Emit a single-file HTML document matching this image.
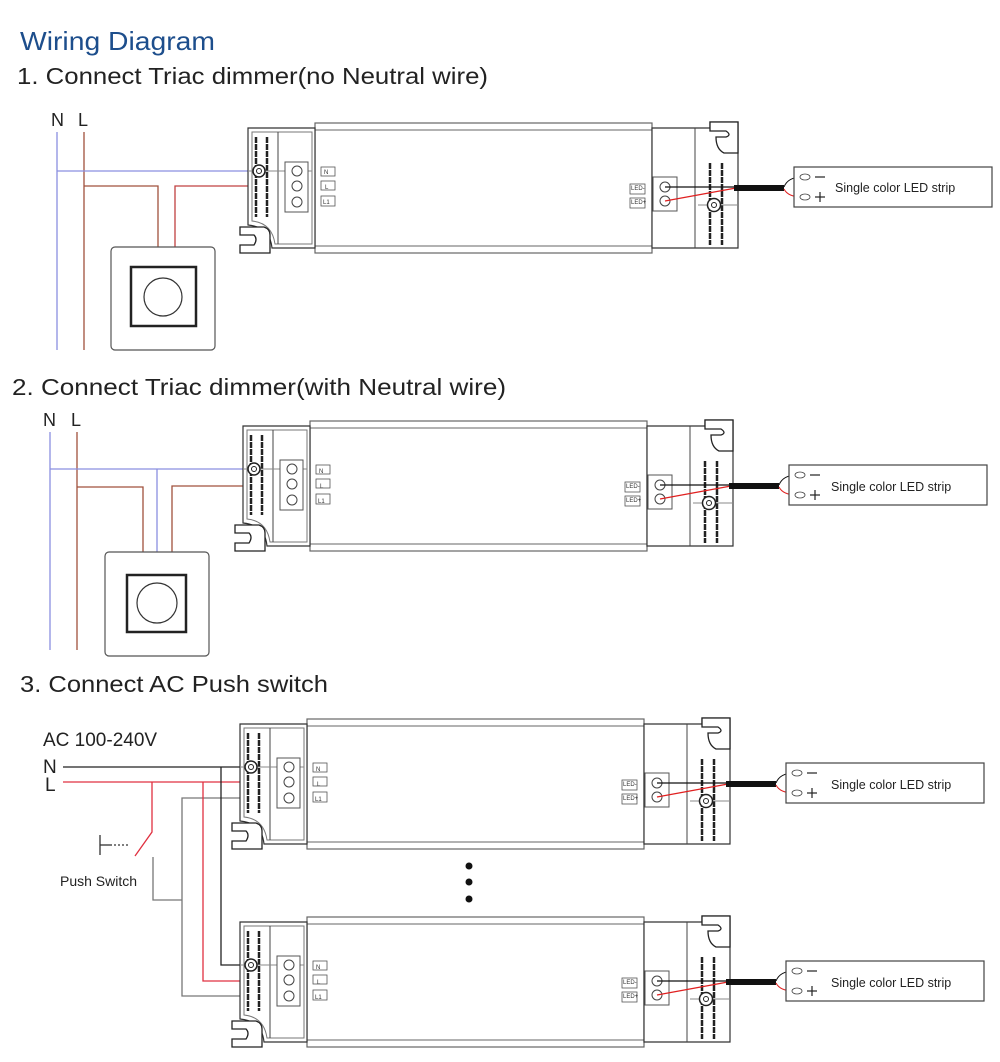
<!DOCTYPE html>
<html><head><meta charset="utf-8"><style>
html,body{margin:0;padding:0;background:#fff}
svg{display:block}
text{font-family:"Liberation Sans",sans-serif}
</style></head><body>
<svg width="1000" height="1062" viewBox="0 0 1000 1062" xmlns="http://www.w3.org/2000/svg">
<text x="20" y="50" font-size="26" fill="#1d4e8c" textLength="195" lengthAdjust="spacingAndGlyphs">Wiring Diagram</text>
<text x="17" y="84" font-size="23" fill="#222" textLength="471" lengthAdjust="spacingAndGlyphs">1. Connect Triac dimmer(no Neutral wire)</text>
<text x="12" y="395" font-size="23" fill="#222" textLength="494" lengthAdjust="spacingAndGlyphs">2. Connect Triac dimmer(with Neutral wire)</text>
<text x="20" y="692" font-size="23" fill="#222" textLength="308" lengthAdjust="spacingAndGlyphs">3. Connect AC Push  switch</text>

<!-- Section 1 wiring -->
<text x="51" y="126" font-size="18" fill="#222">N</text>
<text x="78" y="126" font-size="18" fill="#222">L</text>
<g fill="none" stroke-width="1.3">
<line x1="57" y1="132" x2="57" y2="350" stroke="#8a8fe0"/>
<line x1="84" y1="132" x2="84" y2="350" stroke="#a0503c"/>
<polyline points="57,171 297,171" stroke="#8a8fe0"/>
<polyline points="84,186 158,186 158,247" stroke="#a0503c"/>
<polyline points="175,247 175,186 297,186" stroke="#c04040"/>
</g>
<rect x="111" y="247" width="104" height="103" rx="4" fill="#fff" stroke="#555" stroke-width="1.2"/>
<rect x="131" y="267" width="65" height="59" fill="none" stroke="#222" stroke-width="2.5"/>
<circle cx="163" cy="297" r="19" fill="none" stroke="#333" stroke-width="1.2"/>

<!-- Section 2 wiring -->
<text x="43" y="426" font-size="18" fill="#222">N</text>
<text x="71" y="426" font-size="18" fill="#222">L</text>
<g fill="none" stroke-width="1.3">
<line x1="50" y1="432" x2="50" y2="650" stroke="#8a8fe0"/>
<line x1="77" y1="432" x2="77" y2="650" stroke="#a0503c"/>
<polyline points="50,469 292,469" stroke="#8a8fe0"/>
<line x1="157" y1="469" x2="157" y2="552" stroke="#8a8fe0"/>
<polyline points="77,487 143,487 143,552" stroke="#a0503c"/>
<polyline points="172,552 172,486 292,486" stroke="#a0503c"/>
</g>
<rect x="105" y="552" width="104" height="104" rx="4" fill="#fff" stroke="#555" stroke-width="1.2"/>
<rect x="127" y="575" width="59" height="57" fill="none" stroke="#222" stroke-width="2.5"/>
<circle cx="157" cy="603" r="20" fill="none" stroke="#333" stroke-width="1.2"/>

<!-- Section 3 wiring -->
<text x="43" y="746" font-size="19" fill="#222">AC 100-240V</text>
<text x="43" y="773" font-size="19" fill="#222">N</text>
<text x="45" y="791" font-size="19" fill="#222">L</text>
<text x="60" y="886" font-size="14" fill="#222">Push Switch</text>
<g fill="none" stroke-width="1.3">
<line x1="63" y1="767" x2="289" y2="767" stroke="#222"/>
<line x1="63" y1="782" x2="289" y2="782" stroke="#e03040"/>
<polyline points="152,782 152,832 135,856" stroke="#e03040"/>
<line x1="100" y1="835" x2="100" y2="855" stroke="#333"/>
<line x1="100" y1="845" x2="112" y2="845" stroke="#333"/>
<line x1="114" y1="845" x2="128" y2="845" stroke="#333" stroke-dasharray="2,2"/>
<polyline points="153,857 153,900 182,900" stroke="#777"/>
<polyline points="289,798 182,798 182,996 289,996" stroke="#777"/>
<polyline points="221,767 221,965 289,965" stroke="#222"/>
<polyline points="203,782 203,981 289,981" stroke="#e03040"/>
</g>
<circle cx="469" cy="866" r="3.5" fill="#111"/>
<circle cx="469" cy="882" r="3.5" fill="#111"/>
<circle cx="469" cy="899" r="3.5" fill="#111"/>

<defs>
<g id="drv">
<rect x="75" y="-2" width="337" height="130" fill="#fff" stroke="#666" stroke-width="1.2"/>
<line x1="75" y1="5" x2="412" y2="5" stroke="#666"/>
<line x1="75" y1="121" x2="412" y2="121" stroke="#666"/>
<path d="M8,3 H75 V123 H32 Q30,102 8,100 Z" fill="#fff" stroke="#333" stroke-width="1.2"/>
<path d="M12,7 H72 V119 H35 Q32,98 12,96 Z" fill="none" stroke="#777"/>
<line x1="38" y1="7" x2="38" y2="119" stroke="#444"/>
<line x1="16" y1="12" x2="16" y2="92" stroke="#222" stroke-width="2.5" stroke-dasharray="6,1"/>
<line x1="27" y1="12" x2="27" y2="92" stroke="#222" stroke-width="2.5" stroke-dasharray="6,1"/>
<line x1="8" y1="46" x2="72" y2="46" stroke="#888"/>
<circle cx="19" cy="46" r="6" fill="#fff" stroke="#222" stroke-width="1.5"/>
<circle cx="19" cy="46" r="2.5" fill="none" stroke="#222"/>
<path d="M0,102 H24 Q30,104 30,110 V128 H0 V120 H14 Q18,114 14,110 H0 Z" fill="#fff" stroke="#222" stroke-width="1.3"/>
<rect x="45" y="37" width="23" height="50" fill="#fff" stroke="#555"/>
<circle cx="57" cy="46" r="5" fill="#fff" stroke="#444"/>
<circle cx="57" cy="61" r="5" fill="#fff" stroke="#444"/>
<circle cx="57" cy="77" r="5" fill="#fff" stroke="#444"/>
<rect x="81" y="42" width="14" height="9" fill="none" stroke="#555" stroke-width="0.8"/>
<rect x="81" y="56" width="14" height="9" fill="none" stroke="#555" stroke-width="0.8"/>
<rect x="81" y="71" width="14" height="10" fill="none" stroke="#555" stroke-width="0.8"/>
<path d="M412,3 H470 V-3 H498 V123 H412 Z" fill="#fff" stroke="#333" stroke-width="1.2"/>
<path d="M470,-3 H498 V28 H484 Q476,24 476,12 H486 Q492,10 486,6 H470 Z" fill="#fff" stroke="#222" stroke-width="1.3"/>
<path d="M455,3 V123" stroke="#444"/>
<line x1="470" y1="38" x2="470" y2="120" stroke="#222" stroke-width="2.5" stroke-dasharray="6,1"/>
<line x1="482" y1="38" x2="482" y2="120" stroke="#222" stroke-width="2.5" stroke-dasharray="6,1"/>
<rect x="390" y="59" width="15" height="10" fill="none" stroke="#555" stroke-width="0.8"/>
<rect x="390" y="73" width="15" height="10" fill="none" stroke="#555" stroke-width="0.8"/>
<rect x="413" y="52" width="24" height="34" fill="#fff" stroke="#555"/>
<circle cx="425" cy="62" r="5" fill="#fff" stroke="#444"/>
<circle cx="425" cy="76" r="5" fill="#fff" stroke="#444"/>
<line x1="458" y1="80" x2="498" y2="80" stroke="#888"/>
<circle cx="474" cy="80" r="6.5" fill="#fff" stroke="#222" stroke-width="1.5"/>
<circle cx="474" cy="80" r="2.5" fill="none" stroke="#222"/>
<line x1="425" y1="62" x2="496" y2="62" stroke="#111" stroke-width="1.3"/>
<line x1="425" y1="76" x2="496" y2="63" stroke="#e02020" stroke-width="1.3"/>
<line x1="494" y1="63" x2="544" y2="63" stroke="#111" stroke-width="6"/>
<path d="M544,62 Q548,52 562,52" fill="none" stroke="#111"/>
<path d="M544,64 Q548,72 562,72" fill="none" stroke="#e02020"/>
<rect x="554" y="42" width="198" height="40" fill="#fff" stroke="#444" stroke-width="1.2"/>
<ellipse cx="565" cy="52" rx="5" ry="3" fill="#fff" stroke="#444" stroke-width="0.8"/>
<ellipse cx="565" cy="72" rx="5" ry="3" fill="#fff" stroke="#444" stroke-width="0.8"/>
<line x1="575" y1="52" x2="585" y2="52" stroke="#222" stroke-width="1.2"/>
<line x1="575" y1="72" x2="585" y2="72" stroke="#222" stroke-width="1.2"/>
<line x1="580" y1="67" x2="580" y2="77" stroke="#222" stroke-width="1.2"/>
</g>
</defs>

<use href="#drv" x="240" y="125"/>
<use href="#drv" x="235" y="423"/>
<use href="#drv" x="232" y="721"/>
<use href="#drv" x="232" y="919"/>

<g font-size="6" fill="#333">
<text x="324" y="174">N</text><text x="325" y="189">L</text><text x="323" y="204">L1</text>
<text x="319" y="473">N</text><text x="320" y="488">L</text><text x="318" y="503">L1</text>
<text x="316" y="771">N</text><text x="317" y="786">L</text><text x="315" y="801">L1</text>
<text x="316" y="969">N</text><text x="317" y="984">L</text><text x="315" y="999">L1</text>
<text x="631" y="190">LED-</text><text x="631" y="204">LED+</text>
<text x="626" y="488">LED-</text><text x="626" y="502">LED+</text>
<text x="623" y="786">LED-</text><text x="623" y="800">LED+</text>
<text x="623" y="984">LED-</text><text x="623" y="998">LED+</text>
</g>
<g font-size="12.5" fill="#222">
<text x="835" y="192">Single color LED strip</text>
<text x="831" y="491">Single color LED strip</text>
<text x="831" y="789">Single color LED strip</text>
<text x="831" y="987">Single color LED strip</text>
</g>
</svg>
</body></html>
